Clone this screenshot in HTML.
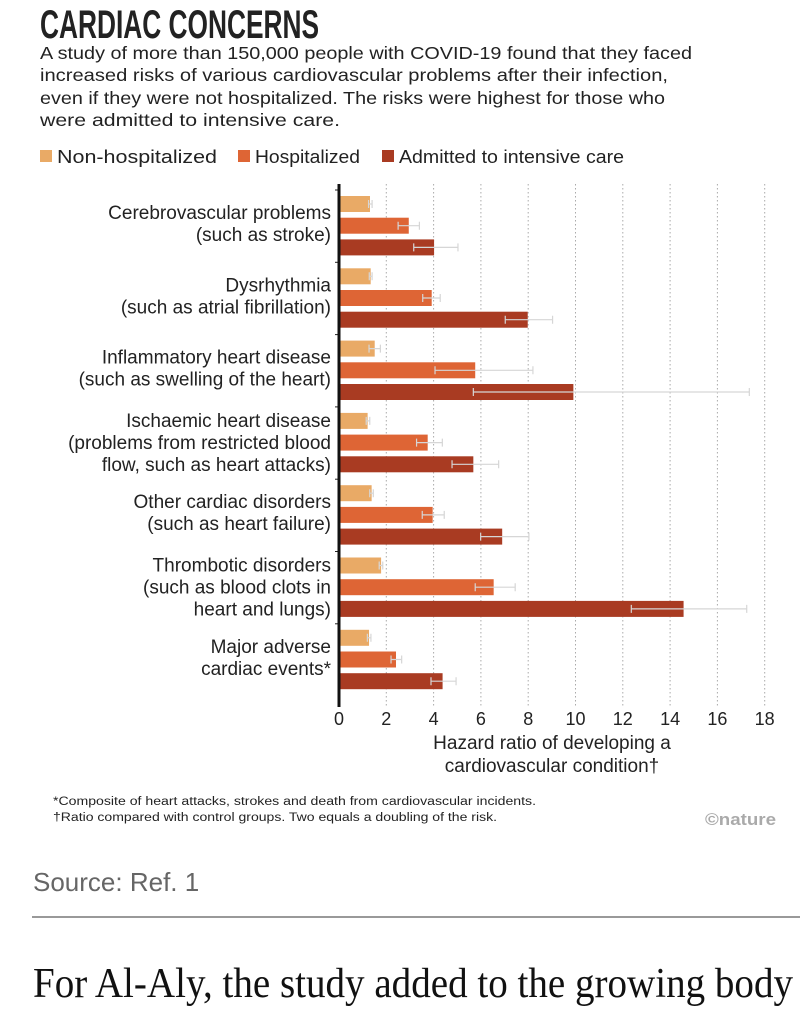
<!DOCTYPE html>
<html><head><meta charset="utf-8"><style>
html,body{margin:0;padding:0;background:#fff;}
svg{display:block;font-family:"Liberation Sans",sans-serif;}
</style></head><body>
<svg id="chart" width="807" height="1009" viewBox="0 0 807 1009" xmlns="http://www.w3.org/2000/svg">
<text x="40" y="38" font-size="40" font-weight="bold" fill="#222" textLength="279" lengthAdjust="spacingAndGlyphs">CARDIAC CONCERNS</text>
<g font-size="17.5" fill="#222">
<text x="40" y="59" textLength="652" lengthAdjust="spacingAndGlyphs">A study of more than 150,000 people with COVID-19 found that they faced</text>
<text x="40" y="81" textLength="628" lengthAdjust="spacingAndGlyphs">increased risks of various cardiovascular problems after their infection,</text>
<text x="40" y="104" textLength="625" lengthAdjust="spacingAndGlyphs">even if they were not hospitalized. The risks were highest for those who</text>
<text x="40" y="126" textLength="300" lengthAdjust="spacingAndGlyphs">were admitted to intensive care.</text>
</g>
<g id="legend" font-size="18" fill="#222"></g>
<g id="grid"></g><g id="bars"></g><g id="labels" font-size="19" fill="#222" text-anchor="end"></g><g id="ticks" font-size="18" fill="#222" text-anchor="middle"></g>
<g font-size="19" fill="#222" text-anchor="middle">
<text x="552" y="749">Hazard ratio of developing a</text>
<text x="552" y="772">cardiovascular condition†</text>
</g>
<g font-size="11.5" fill="#222">
<text x="53" y="805" textLength="483" lengthAdjust="spacingAndGlyphs">*Composite of heart attacks, strokes and death from cardiovascular incidents.</text>
<text x="53" y="821" textLength="444" lengthAdjust="spacingAndGlyphs">†Ratio compared with control groups. Two equals a doubling of the risk.</text>
</g>
<text x="705" y="825" font-size="17" font-weight="bold" fill="#aaa" textLength="71" lengthAdjust="spacingAndGlyphs">©nature</text>
<text x="33" y="891" font-size="26" fill="#666">Source: Ref. 1</text>
<rect x="32" y="916" width="768" height="2" fill="#999"/>
<text x="33" y="997" font-family="Liberation Serif, serif" font-size="42" fill="#111" textLength="760" lengthAdjust="spacingAndGlyphs">For Al-Aly, the study added to the growing body</text>
</svg>
<script>
const categories=[["Cerebrovascular problems","(such as stroke)"],["Dysrhythmia","(such as atrial fibrillation)"],["Inflammatory heart disease","(such as swelling of the heart)"],["Ischaemic heart disease","(problems from restricted blood","flow, such as heart attacks)"],["Other cardiac disorders","(such as heart failure)"],["Thrombotic disorders","(such as blood clots in","heart and lungs)"],["Major adverse","cardiac events*"]];
const seriesNames=["Non-hospitalized","Hospitalized","Admitted to intensive care"];
const nonHosp=[1.31,1.34,1.51,1.21,1.38,1.78,1.27];
const nonHospLo=[1.25,1.28,1.27,1.15,1.3,1.7,1.2];
const nonHospHi=[1.4,1.4,1.75,1.3,1.45,1.85,1.35];
const hosp=[2.95,3.92,5.76,3.75,3.96,6.54,2.41];
const hospLo=[2.5,3.54,4.06,3.28,3.52,5.76,2.2];
const hospHi=[3.4,4.28,8.2,4.37,4.45,7.45,2.65];
const icu=[4.02,7.98,9.91,5.68,6.9,14.57,4.38];
const icuLo=[3.16,7.03,5.68,4.78,5.99,12.36,3.89];
const icuHi=[5.03,9.03,17.35,6.75,8.03,17.24,4.95];
const tickValues=[0,2,4,6,8,10,12,14,16,18];
const colors=["#E9AA66","#DE6535","#A93B22"];
const NS="http://www.w3.org/2000/svg";
const x0=339,k=23.65;
const X=v=>x0+v*k;
const gTop=i=>196+72.3*i;
function mk(t,a,p){const e=document.createElementNS(NS,t);for(const n in a)e.setAttribute(n,a[n]);p.appendChild(e);return e;}
const grid=document.getElementById('grid'),bars=document.getElementById('bars'),labels=document.getElementById('labels'),ticks=document.getElementById('ticks'),legend=document.getElementById('legend');
const lx=[40,238,382];
const lw=[160,105,225];
seriesNames.forEach((n,i)=>{
 const r=mk('rect',{x:lx[i],y:150,width:12,height:12,fill:colors[i]},legend);
 
 
 const t=mk('text',{x:lx[i]+17,y:163,textLength:lw[i],lengthAdjust:'spacingAndGlyphs'},legend);t.textContent=n;
 
 
});
tickValues.forEach(v=>{
 if(v>0){const l=mk('line',{x1:X(v),x2:X(v),y1:184,y2:707,stroke:'#aaa','stroke-width':1,'stroke-dasharray':'1.5,2.5'},grid);
 
 }
 const t=mk('text',{x:X(v),y:725},ticks);t.textContent=v;
 
 
});
const series=[[nonHosp,nonHospLo,nonHospHi],[hosp,hospLo,hospHi],[icu,icuLo,icuHi]];
categories.forEach((c,i)=>{
 const top=gTop(i);
 series.forEach((s,j)=>{
  const y=top+j*21.7,h=16;
  const r=mk('rect',{x:x0,y:y,width:X(s[0][i])-x0,height:h,fill:colors[j]},bars);
  
  
  const cy=y+h/2,lo=X(s[1][i]),hi=X(s[2][i]);
  const e=mk('path',{d:`M${lo},${cy}H${hi}M${lo},${cy-4}V${cy+4}M${hi},${cy-4}V${cy+4}`,stroke:'#d6d6d6','stroke-width':1.2,fill:'none'},bars);
  
  
 });
 const offs=c.length===2?[16,38]:[7,29,51];
 c.forEach((line,m)=>{
  const t=mk('text',{x:331,y:top+offs[m]+7},labels);t.textContent=line;
  
  
 });
 const tk=mk('line',{x1:335,x2:339,y1:top-6,y2:top-6,stroke:'#222','stroke-width':1},bars);
 
 
});
const ax=mk('line',{x1:x0,x2:x0,y1:184,y2:707,stroke:'#111','stroke-width':3},bars);


</script>
</body></html>
